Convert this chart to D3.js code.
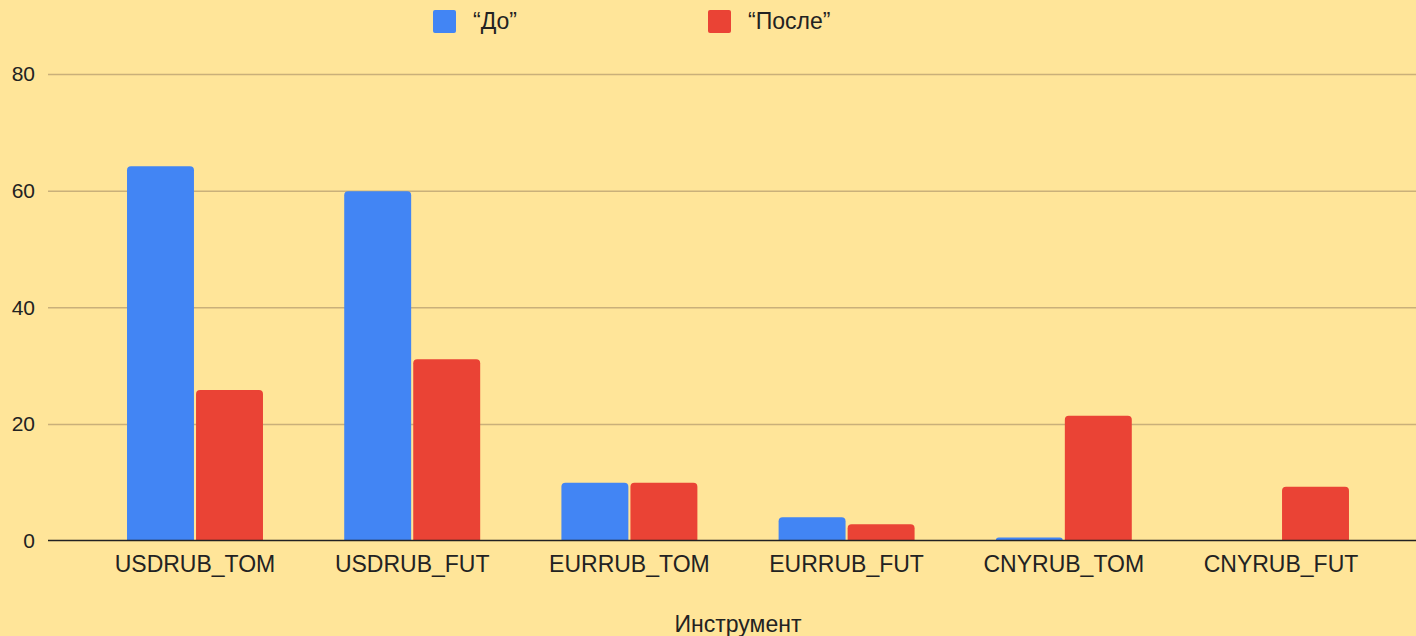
<!DOCTYPE html>
<html>
<meta charset="utf-8">
<title>До / После</title>
<style>
html, body {
  margin: 0;
  padding: 0;
  background: #ffe599;
}
svg {
  display: block;
  font-family: "Liberation Sans", Arial, sans-serif;
}
.grid line {
  stroke: #c9b07a;
  stroke-width: 1.5;
}
.grid path {
  display: none;
}
</style>
<body>
<svg></svg>
<script src="https://d3js.org/d3.v7.min.js"></script>
<script>

var categories = ["USDRUB_TOM", "USDRUB_FUT", "EURRUB_TOM", "EURRUB_FUT", "CNYRUB_TOM", "CNYRUB_FUT"];
var seriesNames = ["\u201CДо\u201D", "\u201CПосле\u201D"];
var beforeValues = [64.2, 59.9, 9.9, 4.0, 0.5, 0];
var afterValues = [25.8, 31.1, 9.9, 2.8, 21.4, 9.2];
var yTicks = [0, 20, 40, 60, 80];
var colors = ["#4285f4", "#ea4335"];

var width = 1416, height = 636;

var svg = d3.select("svg")
    .attr("width", width)
    .attr("height", height);

var x = d3.scaleBand()
    .domain(categories)
    .range([86.4, 1389.6])
    .paddingInner(0.374)
    .paddingOuter(0.187);

var y = d3.scaleLinear()
    .domain([0, 80])
    .range([540.5, 74]);

var xs = d3.scaleBand()
    .domain([0, 1])
    .range([0, x.bandwidth()])
    .paddingInner(0.03);

// gridlines
svg.append("g")
    .attr("class", "grid")
    .attr("transform", "translate(48,0)")
    .call(d3.axisLeft(y).tickValues(yTicks.slice(1)).tickSize(-(width - 48)).tickFormat(""));

// y labels
svg.append("g")
  .selectAll("text")
  .data(yTicks)
  .enter().append("text")
    .attr("x", 35)
    .attr("y", function(d) { return y(d); })
    .attr("dy", "0.35em")
    .attr("text-anchor", "end")
    .attr("font-size", 21)
    .attr("fill", "#222")
    .text(function(d) { return d; });

// bars, rounded at the top
function barPath(x0, w, yTop, yBase) {
  var r = Math.min(4, (yBase - yTop), w / 2);
  if (yBase - yTop <= 0) return "";
  return "M" + x0 + "," + yBase +
    "V" + (yTop + r) +
    "Q" + x0 + "," + yTop + " " + (x0 + r) + "," + yTop +
    "H" + (x0 + w - r) +
    "Q" + (x0 + w) + "," + yTop + " " + (x0 + w) + "," + (yTop + r) +
    "V" + yBase + "Z";
}

var rows = categories.map(function(c, i) {
  return {cat: c, vals: [beforeValues[i], afterValues[i]]};
});

var groups = svg.append("g")
  .selectAll("g")
  .data(rows)
  .enter().append("g")
    .attr("transform", function(d) { return "translate(" + x(d.cat) + ",0)"; });

groups.selectAll("path")
  .data(function(d) { return d.vals; })
  .enter().append("path")
    .attr("fill", function(d, i) { return colors[i]; })
    .attr("d", function(d, i) { return barPath(xs(i), xs.bandwidth(), y(d), y(0)); });

// zero line
svg.append("line")
    .attr("x1", 48)
    .attr("x2", width)
    .attr("y1", y(0))
    .attr("y2", y(0))
    .attr("stroke", "#222")
    .attr("stroke-width", 1.5);

// x labels
svg.append("g")
  .selectAll("text")
  .data(categories)
  .enter().append("text")
    .attr("x", function(d) { return x(d) + x.bandwidth() / 2; })
    .attr("y", 572)
    .attr("text-anchor", "middle")
    .attr("font-size", 23)
    .attr("fill", "#222")
    .text(function(d) { return d; });

// x axis title
svg.append("text")
    .attr("x", 738)
    .attr("y", 632)
    .attr("text-anchor", "middle")
    .attr("font-size", 23)
    .attr("fill", "#222")
    .text("Инструмент");

// legend
var legendX = [433, 708];
var legend = svg.append("g")
  .selectAll("g")
  .data(seriesNames)
  .enter().append("g")
    .attr("transform", function(d, i) { return "translate(" + legendX[i] + ",10)"; });

legend.append("rect")
    .attr("width", 23)
    .attr("height", 23)
    .attr("rx", 2)
    .attr("fill", function(d, i) { return colors[i]; });

legend.append("text")
    .attr("x", 40)
    .attr("y", 19)
    .attr("font-size", 23)
    .attr("fill", "#222")
    .text(function(d) { return d; });

</script>
</body>
</html>
